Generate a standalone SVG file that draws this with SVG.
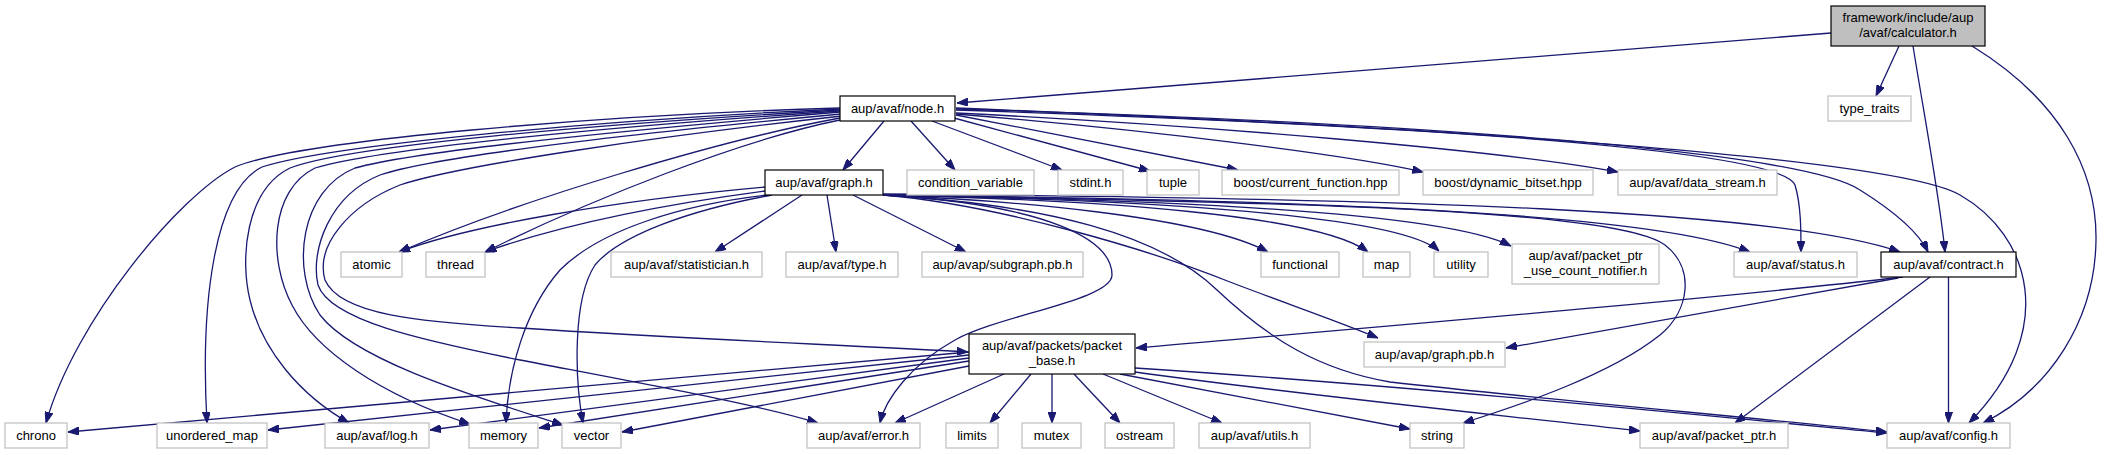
<svg xmlns="http://www.w3.org/2000/svg" width="2109" height="455" viewBox="0 0 2109 455">
<style>
text{font-family:"Liberation Sans",Arial,Helvetica,sans-serif;font-size:13px;text-anchor:middle;fill:#000}
.g rect{fill:#fff;stroke:#bfbfbf;stroke-width:1.2}
.b rect{fill:#fff;stroke:#000;stroke-width:1.2}
.r rect{fill:#bfbfbf;stroke:#000;stroke-width:1.2}
#edges path{fill:none;stroke:#191970;stroke-width:1.3;marker-end:url(#ah)}
</style>
<defs>
<marker id="ah" markerUnits="userSpaceOnUse" markerWidth="11" markerHeight="8" refX="11" refY="4" orient="auto" viewBox="0 0 11 8"><path d="M0,0 L11,4 L0,8 z" fill="#191970" stroke="#191970" stroke-width="1"/></marker>
</defs>
<rect width="2109" height="455" fill="#fff"/>
<g id="edges">
<path d="M1831,33 L957,103"/>
<path d="M1899,46 L1876,96"/>
<path d="M1913,46 C1925,120 1940,200 1945,252"/>
<path d="M1972,46 C2060,100 2097,170 2096,240 C2095,320 2050,390 1983,423"/>
<path d="M884,121 L843,170"/>
<path d="M911,121 L955,170"/>
<path d="M932,121 L1062,170"/>
<path d="M954,118 L1150,171"/>
<path d="M956,115 L1238,170"/>
<path d="M956,114 C1150,130 1350,155 1423,172"/>
<path d="M956,113 C1200,125 1500,150 1618,172"/>
<path d="M956,110 C1400,125 1780,148 1795,185 C1801,205 1801,230 1801,252"/>
<path d="M956,109 C1400,122 1800,150 1860,190 C1900,215 1920,235 1928,252"/>
<path d="M956,108 C1500,130 1900,160 1960,195 C2030,235 2060,330 1969,423"/>
<path d="M840,118 C720,140 520,200 399,252"/>
<path d="M840,120 C740,140 590,200 485,252"/>
<path d="M840,108 C600,115 300,140 235,167 C180,195 75,320 46,423"/>
<path d="M840,109 C600,120 330,145 262,167 C215,190 200,300 207,423"/>
<path d="M840,110 C600,124 350,145 290,168 C245,190 240,260 250,300 C262,350 300,395 349,423"/>
<path d="M840,111 C620,126 380,148 315,168 C270,190 268,260 292,305 C315,350 380,395 470,424"/>
<path d="M840,112 C650,128 420,150 355,168 C300,190 290,270 320,315 C355,360 470,395 563,425"/>
<path d="M841,114 C650,132 440,155 380,175 C330,195 310,250 318,285 C330,320 420,340 520,360 C650,385 760,405 818,423"/>
<path d="M842,116 C660,136 460,165 400,185 C350,205 315,245 325,280 C340,315 420,322 520,328 C700,340 850,345 968,352"/>
<path d="M765,187 C620,200 470,225 399,252"/>
<path d="M765,191 C660,205 560,225 485,252"/>
<path d="M768,195 C680,205 600,230 560,270 C525,310 508,370 506,423"/>
<path d="M772,195 C690,210 620,235 595,265 C572,300 575,380 583,423"/>
<path d="M802,195 L715,252"/>
<path d="M827,195 L836,252"/>
<path d="M853,195 L966,252"/>
<path d="M883,195 C1000,200 1200,215 1268,252"/>
<path d="M883,195 C1100,200 1320,215 1368,252"/>
<path d="M883,195 C1150,200 1400,215 1439,251"/>
<path d="M883,195 C1200,200 1450,215 1511,246"/>
<path d="M883,195 C1300,200 1650,212 1750,252"/>
<path d="M883,194 C1400,198 1780,210 1900,252"/>
<path d="M883,195 C1000,205 1150,250 1230,282 C1290,305 1340,322 1378,338"/>
<path d="M883,195 C1050,205 1112,240 1112,275 C1112,300 1000,315 955,340 C910,365 885,400 880,423"/>
<path d="M883,195 C1350,203 1620,212 1665,245 C1695,268 1690,310 1660,335 C1610,375 1520,405 1463,423"/>
<path d="M883,195 C1050,205 1160,235 1217,290 C1270,340 1320,370 1390,382 C1550,400 1780,420 1887,432"/>
<path d="M969,352 L68,432"/>
<path d="M969,355 L268,430"/>
<path d="M969,358 L430,430"/>
<path d="M969,361 L539,428"/>
<path d="M969,366 L622,432"/>
<path d="M1004,374 L895,423"/>
<path d="M1031,374 L990,423"/>
<path d="M1052,374 L1052,423"/>
<path d="M1074,374 L1120,423"/>
<path d="M1103,374 L1222,423"/>
<path d="M1120,374 L1410,429"/>
<path d="M1135,372 C1300,395 1500,415 1640,431"/>
<path d="M1135,368 C1400,385 1700,415 1887,433"/>
<path d="M1903,277 C1700,300 1400,325 1136,348"/>
<path d="M1898,278 C1750,305 1600,330 1506,348"/>
<path d="M1930,277 L1735,423"/>
<path d="M1948.5,277 L1948.5,423"/>
</g>
<g id="calculator" class="r"><rect x="1831" y="6" width="154" height="40"/><text x="1908" y="22">framework/include/aup</text><text x="1908" y="37">/avaf/calculator.h</text></g>
<g id="node_h" class="b"><rect x="840" y="96" width="115" height="25"/><text x="897.5" y="113">aup/avaf/node.h</text></g>
<g id="type_traits" class="g"><rect x="1828" y="96" width="83" height="25"/><text x="1869.5" y="113">type_traits</text></g>
<g id="graph_h" class="b"><rect x="765" y="170" width="118" height="25"/><text x="824" y="187">aup/avaf/graph.h</text></g>
<g id="condition_variable" class="g"><rect x="907" y="170" width="127" height="25"/><text x="970.5" y="187">condition_variable</text></g>
<g id="stdint_h" class="g"><rect x="1058" y="170" width="65" height="25"/><text x="1090.5" y="187">stdint.h</text></g>
<g id="tuple" class="g"><rect x="1147" y="170" width="52" height="25"/><text x="1173" y="187">tuple</text></g>
<g id="current_function" class="g"><rect x="1222" y="170" width="177" height="25"/><text x="1310.5" y="187">boost/current_function.hpp</text></g>
<g id="dynamic_bitset" class="g"><rect x="1423" y="170" width="170" height="25"/><text x="1508" y="187">boost/dynamic_bitset.hpp</text></g>
<g id="data_stream" class="g"><rect x="1618" y="170" width="159" height="25"/><text x="1697.5" y="187">aup/avaf/data_stream.h</text></g>
<g id="atomic" class="g"><rect x="341" y="252" width="61" height="25"/><text x="371.5" y="269">atomic</text></g>
<g id="thread" class="g"><rect x="426" y="252" width="59" height="25"/><text x="455.5" y="269">thread</text></g>
<g id="statistician" class="g"><rect x="611" y="252" width="151" height="25"/><text x="686.5" y="269">aup/avaf/statistician.h</text></g>
<g id="type_h" class="g"><rect x="786" y="252" width="112" height="25"/><text x="842" y="269">aup/avaf/type.h</text></g>
<g id="subgraph" class="g"><rect x="922" y="252" width="161" height="25"/><text x="1002.5" y="269">aup/avap/subgraph.pb.h</text></g>
<g id="functional" class="g"><rect x="1261" y="252" width="78" height="25"/><text x="1300" y="269">functional</text></g>
<g id="map" class="g"><rect x="1363" y="252" width="47" height="25"/><text x="1386.5" y="269">map</text></g>
<g id="utility" class="g"><rect x="1434" y="252" width="54" height="25"/><text x="1461" y="269">utility</text></g>
<g id="notifier" class="g"><rect x="1512" y="244" width="147" height="40"/><text x="1585.5" y="260">aup/avaf/packet_ptr</text><text x="1585.5" y="275">_use_count_notifier.h</text></g>
<g id="status_h" class="g"><rect x="1734" y="252" width="123" height="25"/><text x="1795.5" y="269">aup/avaf/status.h</text></g>
<g id="contract_h" class="b"><rect x="1881" y="252" width="135" height="25"/><text x="1948.5" y="269">aup/avaf/contract.h</text></g>
<g id="packet_base" class="b"><rect x="969" y="334" width="166" height="40"/><text x="1052" y="350">aup/avaf/packets/packet</text><text x="1052" y="365">_base.h</text></g>
<g id="graph_pb" class="g"><rect x="1364" y="342" width="141" height="25"/><text x="1434.5" y="359">aup/avap/graph.pb.h</text></g>
<g id="chrono" class="g"><rect x="5" y="423" width="62" height="25"/><text x="36" y="440">chrono</text></g>
<g id="unordered_map" class="g"><rect x="157" y="423" width="110" height="25"/><text x="212" y="440">unordered_map</text></g>
<g id="log_h" class="g"><rect x="325" y="423" width="104" height="25"/><text x="377" y="440">aup/avaf/log.h</text></g>
<g id="memory" class="g"><rect x="469" y="423" width="69" height="25"/><text x="503.5" y="440">memory</text></g>
<g id="vector" class="g"><rect x="562" y="423" width="59" height="25"/><text x="591.5" y="440">vector</text></g>
<g id="error_h" class="g"><rect x="807" y="423" width="113" height="25"/><text x="863.5" y="440">aup/avaf/error.h</text></g>
<g id="limits" class="g"><rect x="946" y="423" width="52" height="25"/><text x="972" y="440">limits</text></g>
<g id="mutex" class="g"><rect x="1022" y="423" width="59" height="25"/><text x="1051.5" y="440">mutex</text></g>
<g id="ostream" class="g"><rect x="1105" y="423" width="69" height="25"/><text x="1139.5" y="440">ostream</text></g>
<g id="utils_h" class="g"><rect x="1199" y="423" width="111" height="25"/><text x="1254.5" y="440">aup/avaf/utils.h</text></g>
<g id="string" class="g"><rect x="1410" y="423" width="54" height="25"/><text x="1437" y="440">string</text></g>
<g id="packet_ptr" class="g"><rect x="1640" y="423" width="148" height="25"/><text x="1714" y="440">aup/avaf/packet_ptr.h</text></g>
<g id="config_h" class="g"><rect x="1887" y="423" width="123" height="25"/><text x="1948.5" y="440">aup/avaf/config.h</text></g>
</svg>
